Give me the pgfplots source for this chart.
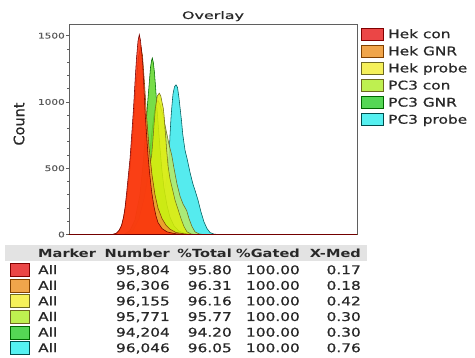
\documentclass[border=0pt]{standalone}
\usepackage{pgfplots}
\pgfplotsset{compat=1.18}
\usepackage{fontspec}
\setmainfont{DejaVu Sans}
\newfontfamily\widef[FakeStretch=1.28,FakeBold=0.8]{DejaVu Sans}
\newfontfamily\widebf[FakeStretch=1.3]{DejaVu Sans Bold}
\newfontfamily\titlef[FakeStretch=1.55,FakeBold=0.8]{DejaVu Sans}
\newfontfamily\tickf[FakeStretch=1.35,FakeBold=0.6]{DejaVu Sans}
\newfontfamily\labf[FakeBold=0.5]{DejaVu Sans}
\definecolor{txt}{RGB}{40,40,40}
\definecolor{axcol}{RGB}{95,95,95}
% plot fills
\definecolor{fred}{RGB}{252,45,10}
\definecolor{forange}{RGB}{240,150,50}
\definecolor{fyellow}{RGB}{222,238,15}
\definecolor{flime}{RGB}{185,235,100}
\definecolor{fgreen}{RGB}{95,215,40}
\definecolor{fcyan}{RGB}{55,232,235}
% legend swatches
\definecolor{sred}{RGB}{235,70,70}
\definecolor{sorange}{RGB}{240,165,75}
\definecolor{syellow}{RGB}{245,240,90}
\definecolor{slime}{RGB}{190,240,80}
\definecolor{sgreen}{RGB}{85,215,85}
\definecolor{scyan}{RGB}{85,240,240}
\begin{document}
\begin{tikzpicture}
\path[use as bounding box] (0pt,0pt) rectangle (475pt,358pt);
\begin{axis}[
  at={(69pt,123.5pt)}, anchor=south west,
  scale only axis, width=288pt, height=210.5pt,
  xmin=69, xmax=357, ymin=0, ymax=1588,
  xtick=\empty,
  ytick={0,500,1000,1500},
  yticklabels={0,500,1000,1500},
  minor y tick num=4,
  ytick pos=left,
  tick align=outside,
  major tick length=3pt, minor tick length=1.8pt,
  tick style={axcol, line width=0.5pt},
  axis line style={axcol, line width=0.7pt},
  /pgf/number format/assume math mode=true,
  yticklabel style={font=\tickf\fontsize{7.8}{8}\selectfont, text=gray!70!black, inner sep=1pt},
  every axis plot/.append style={line width=0.55pt, fill opacity=0.85},
]
% PC3 probe (cyan)
\addplot[draw=teal!70!black, fill=fcyan] coordinates {
(69,0) (140,0) (148,20) (155,70) (160,170) (164,300) (167,440) (169,575) (170,750) (171,880) (171.8,960) (173,1060) (174.5,1115) (176,1129) (177.5,1110) (179,1030) (180,960) (181.5,860) (182.7,760) (185,637) (187.3,565) (190,470) (193,380) (196,310) (198,260) (201,170) (204,95) (207,45) (210,15) (214,3) (218,0) (357,0)
} \closedcycle;
% PC3 con (lime)
\addplot[draw=olive!70!black, fill=flime] coordinates {
(69,0) (128,0) (134,30) (140,110) (145,300) (149,560) (152,780) (154.5,930) (156.5,1000) (158,1010) (160,980) (163,900) (166,790) (169,680) (171.7,600) (174,500) (177,380) (180,290) (183,230) (186.7,180) (189,120) (192,60) (195,20) (199,5) (203,0) (357,0)
} \closedcycle;
% PC3 GNR (green)
\addplot[draw=green!40!black, fill=fgreen] coordinates {
(69,0) (124,0) (130,30) (135,110) (140,300) (143.5,560) (146,820) (147.7,1000) (149,1120) (150.5,1260) (151.5,1310) (152.3,1331) (153.3,1300) (154.5,1220) (155.7,1100) (157,950) (158.5,800) (160,650) (162,480) (164,350) (167,220) (170,130) (174,65) (179,25) (186,6) (193,0) (357,0)
} \closedcycle;
% Hek probe (yellow)
\addplot[draw=olive!80!black, fill=fyellow] coordinates {
(69,0) (127,0) (133,30) (139,120) (144,270) (148,430) (151.7,600) (153,720) (154,826) (155.5,960) (157.3,1045) (159.3,1066) (160.8,1045) (162,1000) (163.3,952) (164.3,880) (165,800) (165.7,740) (166.5,650) (168,520) (170,420) (172.5,340) (175,260) (178,190) (181,120) (184,60) (187,20) (191,4) (195,0) (357,0)
} \closedcycle;
% Hek GNR (orange)
\addplot[draw=orange!50!black, fill=forange] coordinates {
(69,0) (113,0) (117,10) (121,50) (124,140) (127,290) (130,500) (133,780) (136,1120) (138.5,1340) (140.8,1420) (142.5,1350) (144.5,1140) (146.5,900) (149,660) (152,450) (155,300) (158,200) (162,120) (166,70) (170,40) (176,15) (185,4) (195,0) (357,0)
} \closedcycle;
% Hek con (red)
\addplot[draw=red!45!black, fill=fred] coordinates {
(69,0) (112,0) (116,8) (119,30) (121.7,72) (123.5,130) (125,200) (126.7,320) (128,420) (130,570) (131.7,750) (133.5,950) (135,1150) (136.5,1330) (138,1460) (139.3,1508) (140.5,1465) (141.5,1390) (142.7,1290) (144,1100) (145.3,900) (146.7,740) (148,600) (149.5,470) (151.7,320) (154,210) (156,140) (158,90) (162,45) (167,20) (175,6) (185,0) (357,0)
} \closedcycle;
\end{axis}
% title and y label
\node[anchor=base, inner sep=0pt, text=txt, font=\titlef\fontsize{10.3}{12}\selectfont] at (213pt,339pt) {Overlay};
\node[rotate=90, inner sep=0pt, text=txt, font=\labf\fontsize{14.5}{16}\selectfont] at (19pt,234pt) {Count};
% legend
\begin{scope}[every node/.style={anchor=base west, inner sep=0pt, text=txt, font=\widef\fontsize{12}{14}\selectfont}]
\filldraw[fill=sred, draw=red!50!black, line width=0.5pt] (361pt,318pt) rectangle (383pt,330pt);
\node at (388pt,319.8pt) {Hek con};
\filldraw[fill=sorange, draw=orange!50!black, line width=0.5pt] (361pt,300.9pt) rectangle (383pt,312.9pt);
\node at (388pt,302.7pt) {Hek GNR};
\filldraw[fill=syellow, draw=olive!70!black, line width=0.5pt] (361pt,283.8pt) rectangle (383pt,295.8pt);
\node at (388pt,285.6pt) {Hek probe};
\filldraw[fill=slime, draw=olive!70!black, line width=0.5pt] (361pt,266.7pt) rectangle (383pt,278.7pt);
\node at (388pt,268.5pt) {PC3 con};
\filldraw[fill=sgreen, draw=green!40!black, line width=0.5pt] (361pt,249.6pt) rectangle (383pt,261.6pt);
\node at (388pt,251.4pt) {PC3 GNR};
\filldraw[fill=scyan, draw=teal!60!black, line width=0.5pt] (361pt,232.5pt) rectangle (383pt,244.5pt);
\node at (388pt,234.3pt) {PC3 probe};
\end{scope}
% statistics table
\fill[gray!22] (5pt,97pt) rectangle (367pt,113pt);
\begin{scope}[every node/.style={inner sep=0pt, text=txt, font=\widebf\fontsize{11.2}{13}\selectfont}]
\node[anchor=base west] at (38pt,100.3pt) {Marker};
\node[anchor=base east] at (170pt,100.3pt) {Number};
\node[anchor=base east] at (232pt,100.3pt) {\%Total};
\node[anchor=base east] at (300pt,100.3pt) {\%Gated};
\node[anchor=base east] at (361pt,100.3pt) {X-Med};
\end{scope}
\begin{scope}[every node/.style={inner sep=0pt, text=txt, font=\widef\fontsize{12}{14}\selectfont}]
% row 1
\filldraw[fill=sred, draw=red!50!black, line width=0.5pt] (10pt,81.5pt) rectangle (29pt,94.5pt);
\node[anchor=base west] at (38pt,83.8pt) {All};
\node[anchor=base east] at (170pt,83.8pt) {95,804};
\node[anchor=base east] at (232pt,83.8pt) {95.80};
\node[anchor=base east] at (300pt,83.8pt) {100.00};
\node[anchor=base east] at (361pt,83.8pt) {0.17};
% row 2
\filldraw[fill=sorange, draw=orange!50!black, line width=0.5pt] (10pt,65.9pt) rectangle (29pt,78.9pt);
\node[anchor=base west] at (38pt,68.2pt) {All};
\node[anchor=base east] at (170pt,68.2pt) {96,306};
\node[anchor=base east] at (232pt,68.2pt) {96.31};
\node[anchor=base east] at (300pt,68.2pt) {100.00};
\node[anchor=base east] at (361pt,68.2pt) {0.18};
% row 3
\filldraw[fill=syellow, draw=olive!70!black, line width=0.5pt] (10pt,50.3pt) rectangle (29pt,63.3pt);
\node[anchor=base west] at (38pt,52.6pt) {All};
\node[anchor=base east] at (170pt,52.6pt) {96,155};
\node[anchor=base east] at (232pt,52.6pt) {96.16};
\node[anchor=base east] at (300pt,52.6pt) {100.00};
\node[anchor=base east] at (361pt,52.6pt) {0.42};
% row 4
\filldraw[fill=slime, draw=olive!70!black, line width=0.5pt] (10pt,34.7pt) rectangle (29pt,47.7pt);
\node[anchor=base west] at (38pt,37pt) {All};
\node[anchor=base east] at (170pt,37pt) {95,771};
\node[anchor=base east] at (232pt,37pt) {95.77};
\node[anchor=base east] at (300pt,37pt) {100.00};
\node[anchor=base east] at (361pt,37pt) {0.30};
% row 5
\filldraw[fill=sgreen, draw=green!40!black, line width=0.5pt] (10pt,19.1pt) rectangle (29pt,32.1pt);
\node[anchor=base west] at (38pt,21.4pt) {All};
\node[anchor=base east] at (170pt,21.4pt) {94,204};
\node[anchor=base east] at (232pt,21.4pt) {94.20};
\node[anchor=base east] at (300pt,21.4pt) {100.00};
\node[anchor=base east] at (361pt,21.4pt) {0.30};
% row 6
\filldraw[fill=scyan, draw=teal!60!black, line width=0.5pt] (10pt,3.5pt) rectangle (29pt,16.5pt);
\node[anchor=base west] at (38pt,5.8pt) {All};
\node[anchor=base east] at (170pt,5.8pt) {96,046};
\node[anchor=base east] at (232pt,5.8pt) {96.05};
\node[anchor=base east] at (300pt,5.8pt) {100.00};
\node[anchor=base east] at (361pt,5.8pt) {0.76};
\end{scope}
\end{tikzpicture}
\end{document}
